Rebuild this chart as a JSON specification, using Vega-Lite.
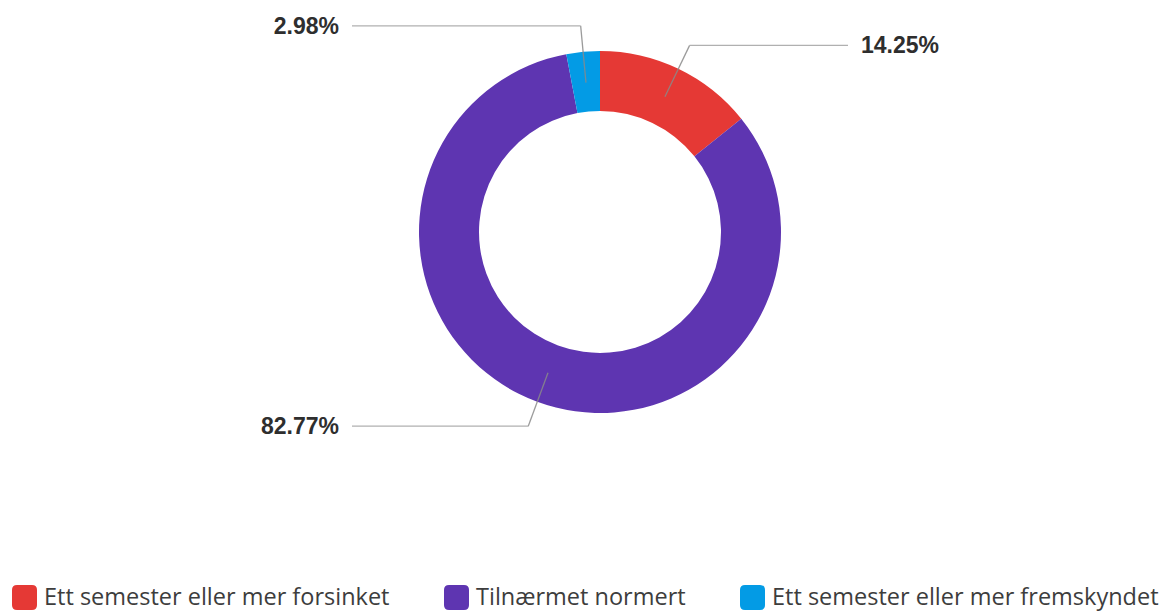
{
  "$schema": "https://vega.github.io/schema/vega-lite/v6.json",
  "width": 1130,
  "height": 464,
  "autosize": {"type": "none"},
  "padding": {"left": 35, "top": 0, "right": 0, "bottom": 147},
  "background": "white",
  "config": {
    "view": {"stroke": null},
    "legend": {
      "orient": "none",
      "legendX": -23,
      "legendY": 585,
      "direction": "horizontal",
      "symbolType": "M -0.6,-1 L 0.6,-1 Q 1,-1 1,-0.6 L 1,0.6 Q 1,1 0.6,1 L -0.6,1 Q -1,1 -1,0.6 L -1,-0.6 Q -1,-1 -0.6,-1 Z",
      "symbolSize": 625,
      "symbolStrokeWidth": 0,
      "symbolOpacity": 1,
      "labelFont": "Open Sans",
      "labelFontSize": 23.5,
      "labelFontWeight": 500,
      "labelColor": "#3d3d3d",
      "labelOffset": 7,
      "columnPadding": 54,
      "labelLimit": 600
    }
  },
  "data": {
    "values": [
      {"kategori": "Ett semester eller mer forsinket", "andel": 14.25, "rekkefolge": 1},
      {"kategori": "Tilnærmet normert", "andel": 82.77, "rekkefolge": 2},
      {"kategori": "Ett semester eller mer fremskyndet", "andel": 2.98, "rekkefolge": 3}
    ]
  },
  "transform": [
    {"window": [{"op": "sum", "field": "andel", "as": "kum"}], "sort": [{"field": "rekkefolge"}], "frame": [null, 0]},
    {"joinaggregate": [{"op": "sum", "field": "andel", "as": "total"}]},
    {"calculate": "(datum.kum - datum.andel / 2) / datum.total * 2 * PI", "as": "midt"},
    {"calculate": "150 * sin(datum.midt)", "as": "px1"},
    {"calculate": "150 * cos(datum.midt)", "as": "py1"},
    {"calculate": "207 * sin(datum.midt)", "as": "px2"},
    {"calculate": "207 * cos(datum.midt)", "as": "py2"},
    {"calculate": "sin(datum.midt) > 0 ? 248 : -248", "as": "px3"},
    {"calculate": "sin(datum.midt) > 0 ? 261 : -261", "as": "pxt"},
    {"calculate": "format(datum.andel, '.2f') + '%'", "as": "etikett"}
  ],
  "layer": [
    {
      "mark": {"type": "arc", "outerRadius": 181, "innerRadius": 121},
      "encoding": {
        "theta": {"field": "andel", "type": "quantitative", "stack": true},
        "order": {"field": "rekkefolge", "type": "quantitative"},
        "color": {
          "field": "kategori",
          "type": "nominal",
          "scale": {
            "domain": ["Ett semester eller mer forsinket", "Tilnærmet normert", "Ett semester eller mer fremskyndet"],
            "range": ["#E53935", "#5E35B1", "#039BE5"]
          },
          "legend": {"title": null}
        }
      }
    },
    {
      "mark": {"type": "rule", "color": "#8a8a8a", "strokeWidth": 1.3, "opacity": 0.85},
      "encoding": {
        "x": {"field": "px1", "type": "quantitative", "scale": {"domain": [-565, 565], "nice": false, "zero": false}, "axis": null},
        "y": {"field": "py1", "type": "quantitative", "scale": {"domain": [-232, 232], "nice": false, "zero": false}, "axis": null},
        "x2": {"field": "px2"},
        "y2": {"field": "py2"}
      }
    },
    {
      "mark": {"type": "rule", "color": "#b0b0b0", "strokeWidth": 1.3},
      "encoding": {
        "x": {"field": "px2", "type": "quantitative", "axis": null},
        "y": {"field": "py2", "type": "quantitative", "axis": null},
        "x2": {"field": "px3"}
      }
    },
    {
      "transform": [{"filter": "datum.pxt > 0"}],
      "mark": {"type": "text", "align": "left", "baseline": "middle", "font": "Liberation Sans", "fontSize": 23, "fontWeight": "bold", "color": "#2e2e2e", "dy": 1},
      "encoding": {
        "x": {"field": "pxt", "type": "quantitative", "axis": null},
        "y": {"field": "py2", "type": "quantitative", "axis": null},
        "text": {"field": "etikett"}
      }
    },
    {
      "transform": [{"filter": "datum.pxt < 0"}],
      "mark": {"type": "text", "align": "right", "baseline": "middle", "font": "Liberation Sans", "fontSize": 23, "fontWeight": "bold", "color": "#2e2e2e", "dy": 1},
      "encoding": {
        "x": {"field": "pxt", "type": "quantitative", "axis": null},
        "y": {"field": "py2", "type": "quantitative", "axis": null},
        "text": {"field": "etikett"}
      }
    }
  ]
}
